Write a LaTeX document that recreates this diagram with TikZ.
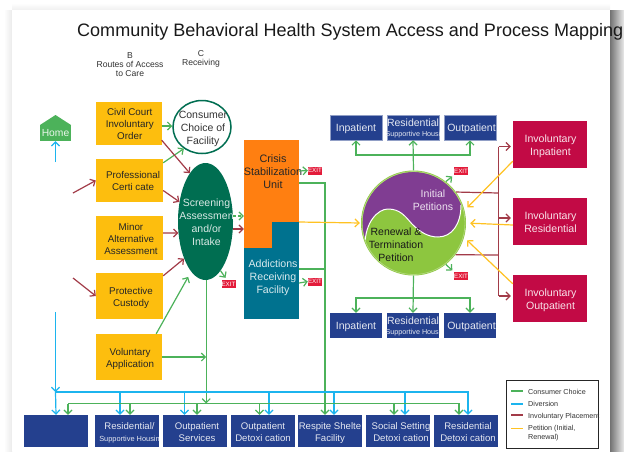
\documentclass[tikz,border=0pt]{standalone}
\usepackage{fontspec}
\setmainfont{Liberation Sans}
\usetikzlibrary{arrows.meta,shapes.geometric}
\definecolor{cyel}{HTML}{FDBE0E}
\definecolor{corg}{HTML}{FF7F11}
\definecolor{cteal}{HTML}{00728F}
\definecolor{cdk}{HTML}{006E51}
\definecolor{cpur}{HTML}{803D92}
\definecolor{clime}{HTML}{8DC63F}
\definecolor{cnavy}{HTML}{24408E}
\definecolor{ccrim}{HTML}{C20A45}
\definecolor{cgrn}{HTML}{4CB25A}
\definecolor{cblu}{HTML}{1CB4EE}
\definecolor{cmar}{HTML}{A23B48}
\definecolor{cyl}{HTML}{FFC222}
\definecolor{cex}{HTML}{E31B3A}
\newcommand{\fs}[2]{\fontsize{#1}{#2}\selectfont}
\newcommand{\tx}[2]{\smash{\makebox[0pt]{\hspace*{#1}\raisebox{-4.5pt}{\begin{tabular}[c]{@{}c@{}}#2\end{tabular}}}}}
\tikzset{
  tip/.style={-{Straight Barb[length=4pt,width=8pt]}},
  gar/.style={tip,draw=cgrn,line width=1.2pt},
  gln/.style={draw=cgrn,line width=1.2pt},
  bar/.style={tip,draw=cblu,line width=1.2pt},
  bln/.style={draw=cblu,line width=1.2pt},
  mar/.style={tip,draw=cmar,line width=1.2pt},
  mln/.style={draw=cmar,line width=1.2pt},
  yar/.style={tip,draw=cyl,line width=1.2pt},
  bx/.style={rectangle,inner sep=0pt,align=center},
  ybox/.style={bx,fill=cyel,text=black!85,font=\fs{9.8}{12}},
  nbox/.style={bx,fill=cnavy,text=white!88!cnavy,minimum width=52pt,minimum height=25pt,font=\fs{10.5}{12}},
  sbox/.style={bx,fill=cnavy,text=white!88!cnavy,minimum width=64pt,minimum height=32pt,font=\fs{9.6}{12}},
  cbox/.style={bx,fill=ccrim,text=white!88!ccrim,minimum width=74pt,minimum height=47pt,font=\fs{10.6}{13}},
  exitbox/.style={bx,fill=cex,text=white,minimum width=14pt,minimum height=8pt,font=\fs{6.2}{7}},
  head/.style={inner sep=0pt,align=center,text=black!80,font=\fs{8.6}{9}},
  legt/.style={inner sep=0pt,anchor=west,align=left,text=black!80,font=\fs{7.2}{9}}
}
\begin{document}
\begin{tikzpicture}[x=1pt,y=-1pt]
\useasboundingbox (0,0) rectangle (624,451);
% page and its shadow
\fill[white] (0,0) rectangle (624,451);
\shade[left color=white,right color=black!8] (4,10) rectangle (12,451);
\shade[top color=white,bottom color=black!6] (12,3) rectangle (610,10);
\shade[left color=black!55,right color=black!8] (610,10) rectangle (624,451);
\fill[white] (12,10) rectangle (610,451);
% title and headings
\node[inner sep=0pt,anchor=west,text=black!90,font=\fs{18.03}{20}] (title) at (77,32) {Community Behavioral Health System Access and Process Mapping};
\node[head] (hb) at (130,65) {B\\Routes of Access\\to Care};
\node[head] (hc) at (201,59) {C\\Receiving};
% home
\fill[cgrn] (40,125) -- (55.5,115) -- (71,125) -- cycle;
\node[bx,fill=cgrn,text=white!88!cgrn,minimum width=31pt,minimum height=16pt,font=\fs{10.3}{12}] (home) at (55.5,133) {Home};
% route boxes
\node[ybox,minimum width=65.5pt,minimum height=43pt] (civil) at (128.75,123.5) {\tx{2pt}{Civil Court\\Involuntary\\Order}};
\node[ybox,minimum width=67pt,minimum height=43pt] (prof) at (129.5,180.5) {\tx{7pt}{Professional\\Certi cate}};
\node[ybox,minimum width=67pt,minimum height=44pt] (minor) at (129.5,238) {\tx{3pt}{Minor\\Alternative\\Assessment}};
\node[ybox,minimum width=67pt,minimum height=46pt] (prot) at (129.5,296) {\tx{3pt}{Protective\\Custody}};
\node[ybox,minimum width=66pt,minimum height=46pt] (vol) at (129,357) {\tx{2pt}{Voluntary\\Application}};
% receiving
\node[ellipse,draw=cdk,line width=1.5pt,fill=white,minimum width=58pt,minimum height=53pt,inner sep=0pt,align=center,text=black!80,font=\fs{10.5}{13}] (cons) at (202,127) {\tx{2pt}{Consumer\\Choice of\\Facility}};
\node[ellipse,fill=cdk,minimum width=55pt,minimum height=117pt,inner sep=0pt,align=center,text=white!85!cdk,font=\fs{10.5}{13}] (screen) at (205.5,221.5) {\tx{2pt}{Screening\\Assessmen\\and/or\\Intake}};
% crisis and addictions
\fill[cteal] (272,222) rectangle (299,240);
\node[bx,fill=cteal,text=white!85!cteal,minimum width=55pt,minimum height=86pt,font=\fs{10.6}{13}] (addict) at (271.5,276) {\tx{3pt}{Addictions\\Receiving\\Facility}};
\fill[corg] (244,200) rectangle (299,222);
\fill[corg] (244,220) rectangle (272,248);
\node[bx,fill=corg,text=black!85,minimum width=55pt,minimum height=62pt,font=\fs{10.8}{13}] (crisis) at (271.5,171) {\tx{3pt}{Crisis\\Stabilization\\Unit}};
% petitions circle
\node[circle,fill=clime,minimum size=105pt,inner sep=0pt] (pet) at (413.5,223) {};
\begin{scope}
\clip (413.5,223) circle (51pt);
\fill[cpur] (365,245) .. controls (365,222) and (378,209) .. (388,209) .. controls (400,209) and (405,216) .. (412,224) .. controls (420,232) and (428,237) .. (438,237) .. controls (452,237) and (461,224) .. (461,205) -- (480,160) -- (340,160) -- (340,245) -- cycle;
\draw[white,line width=1pt] (365,245) .. controls (365,222) and (378,209) .. (388,209) .. controls (400,209) and (405,216) .. (412,224) .. controls (420,232) and (428,237) .. (438,237) .. controls (452,237) and (461,224) .. (461,205);
\end{scope}
\draw[clime!70!white,line width=0.8pt] (413.5,223) circle (51.5pt);
\node[inner sep=0pt,align=center,text=white!85!cpur,font=\fs{10.5}{13}] (init) at (433,200.5) {Initial\\Petitions};
\node[inner sep=0pt,align=center,text=black!90,font=\fs{10.5}{13}] (renew) at (396,245) {Renewal \&\\Termination\\Petition};
% treatment boxes
\node[nbox,draw=cnavy!50!white,line width=0.5pt] (ti) at (356,127.5) {\tx{0pt}{Inpatient}};
\node[nbox,draw=cnavy!50!white,line width=0.5pt] (tr) at (413,127.5) {\tx{0pt}{Residential\\[-2pt]{\fs{7.2}{8}Supportive Housi}}};
\node[nbox,draw=cnavy!50!white,line width=0.5pt] (to) at (470,127.5) {\tx{3pt}{Outpatient}};
\node[nbox] (bi) at (356,325.5) {\tx{0pt}{Inpatient}};
\node[nbox] (br) at (413,325.5) {\tx{0pt}{Residential\\[-2pt]{\fs{7.2}{8}Supportive Housi}}};
\node[nbox] (bo) at (470,325.5) {\tx{3pt}{Outpatient}};
% involuntary
\node[cbox] (ii) at (550,144.5) {\tx{1pt}{Involuntary\\Inpatient}};
\node[cbox] (ir) at (550,221.5) {\tx{1pt}{Involuntary\\Residential}};
\node[cbox] (io) at (550,298.5) {\tx{1pt}{Involuntary\\Outpatient}};
% bottom row
\node[sbox] (blank) at (56,431) {};
\node[sbox] (sres) at (127,431) {\tx{5pt}{Residential/\\{\fs{7.4}{9}Supportive Housin}}};
\node[sbox] (sout) at (195,431) {\tx{4pt}{Outpatient\\Services}};
\node[sbox] (sdet) at (263,431) {\tx{0pt}{Outpatient\\Detoxi cation}};
\node[sbox] (sresp) at (330,431) {\tx{0pt}{Respite Shelte\\Facility}};
\node[sbox] (ssoc) at (398,431) {\tx{6pt}{Social Setting\\Detoxi cation}};
\node[sbox] (srd) at (466,431) {\tx{4pt}{Residential\\Detoxi cation}};
% exits
\node[exitbox] (x1) at (315,170.5) {EXIT};
\node[exitbox] (x2) at (315,281.5) {EXIT};
\node[exitbox] (x3) at (228.5,284) {EXIT};
\node[exitbox] (x4) at (461,171) {EXIT};
\node[exitbox] (x5) at (461,276) {EXIT};
% free ends and junctions
\coordinate (hfoot) at (55.5,162);
\coordinate (fa) at (73,193);
\coordinate (fb) at (73,278);
\coordinate (bt) at (55.5,312);
\coordinate (bl) at (55.5,392);
\coordinate (gl) at (68,403.5);
\coordinate (sd) at (206.2,403.5);
\coordinate (trunk) at (325,269);
\coordinate (tj) at (413,155);
\coordinate (bj) at (413,298);
\coordinate (mt) at (498.5,146.5);
\coordinate (mb) at (498.5,296);
\coordinate (m1) at (498.5,193);
\coordinate (m2) at (498.5,255);
\coordinate (m3) at (498.5,218);
% connectors, left side
\draw[bar] (hfoot) -- (home.south);
\draw[gar] ([yshift=-2.5pt]civil.east) -- ([yshift=1pt]cons.west);
\draw[gar] ([yshift=-4pt]prof.north east) -- (cons.230);
\draw[mar] ([yshift=5pt]civil.south east) -- (screen.108);
\draw[mar] ([yshift=-10pt]prof.east) -- (screen.143);
\draw[mar] (fa) -- (prof.west);
\draw[mar] ([yshift=5pt]minor.east) -- (screen.203);
\draw[mar] ([yshift=-3pt]prot.north east) -- (screen.240);
\draw[mar] (fb) -- (prot.west);
\draw[gar,shorten >=6pt] ([xshift=-6pt]vol.north east) -- (screen.254);
\draw[gar] (vol.east) -- (vol.east -| sd);
\draw[gar,densely dashed] ([yshift=5.5pt]screen.east) -- ([yshift=-45pt]crisis.west);
\draw[mar] ([yshift=-7.5pt]screen.east) -- ([yshift=-58pt]crisis.west);
\draw[gar] (screen.-73) -- ([xshift=-3pt,yshift=2pt]x3.north);
\draw[gar] ([xshift=0.7pt]screen.south) -- (sd);
% connectors, middle
\draw[gar] (crisis.east) -- (x1.west);
\draw[gar] ([yshift=-7pt]addict.east) -- (x2.west);
\draw[gar] ([yshift=-12pt]crisis.east) -| ([xshift=-5pt]sresp.north);
\draw[gln] ([yshift=7pt]addict.east) -- (trunk);
\draw[yar,shorten >=1pt] ([yshift=-51pt]crisis.east) -- (pet.west);
% petitions
\draw[gar] (pet.north) -- (tr.south);
\draw[gar] (tj) -| (ti.south);
\draw[gar] (tj) -| (to.south);
\draw[gar] (pet.south) -- (br.north);
\draw[gar] (bj) -| (bi.north);
\draw[gar] (bj) -| (bo.north);
\draw[gar,shorten >=2pt] (pet.52) -- (x4.south west);
\draw[gar,shorten >=2pt] (pet.-52) -- (x5.north west);
\draw[mln] (pet.36) -- (m1);
\draw[mln] (pet.-37) -- (m2);
\draw[mln] (mt) -- (mb);
\draw[mar,shorten >=2pt] (mt) -- ([yshift=-2pt]ii.west);
\draw[mar,shorten >=2pt] (m3) -- ([yshift=3.5pt]ir.west);
\draw[mar,shorten >=2pt] (mb) -- ([yshift=2.5pt]io.west);
\draw[yar,shorten >=4pt] ([yshift=7pt]ii.south west) -- (pet.14);
\draw[yar,shorten >=4pt] ([yshift=-3.5pt]ir.west) -- (pet.east);
\draw[yar,shorten >=4pt] ([yshift=-9pt]io.north west) -- (pet.-16);
% diversion bus
\draw[bar] (bt) -- (bl);
\draw[bar] (bl) -- (blank.north);
\draw[bar] (bl) -| ([xshift=-7pt]sres.north);
\draw[bar] (bl) -| ([xshift=-10.5pt]sout.north);
\draw[bar] (bl) -| ([xshift=6pt]sdet.north);
\draw[bar] (bl) -| ([xshift=4pt]sresp.north);
\draw[bar] (bl) -| ([xshift=7pt]ssoc.north);
\draw[bar] (bl) -| ([xshift=2pt]srd.north);
% consumer choice bus
\draw[gar] (gl) -- ([xshift=12pt]blank.north);
\draw[gar] (gl) -| ([xshift=3pt]sres.north);
\draw[gar] (gl) -| ([xshift=2pt]sout.north);
\draw[gar] (gl) -| ([xshift=-3.5pt]sdet.north);
\draw[gar] (gl) -| ([xshift=-4pt]ssoc.north);
\draw[gar] (gl) -| ([xshift=-7pt]srd.north);
% legend
\node[rectangle,draw=black!85,line width=1pt,fill=white,minimum width=92pt,minimum height=68pt,inner sep=0pt] (leg) at (552,414) {};
\draw[gln] (511,391) -- (523,391);
\draw[bln] (511,404) -- (523,404);
\draw[mln] (511,415) -- (523,415);
\draw[draw=cyl,line width=1.2pt] (511,428.5) -- (523,428.5);
\node[legt] (l1) at (528,391.5) {Consumer Choice};
\node[legt] (l2) at (528,404) {Diversion};
\node[legt] (l3) at (528,416.5) {Involuntary Placement};
\node[legt] (l4) at (528,433.5) {Petition (Initial,\\Renewal)};
\end{tikzpicture}
\end{document}
